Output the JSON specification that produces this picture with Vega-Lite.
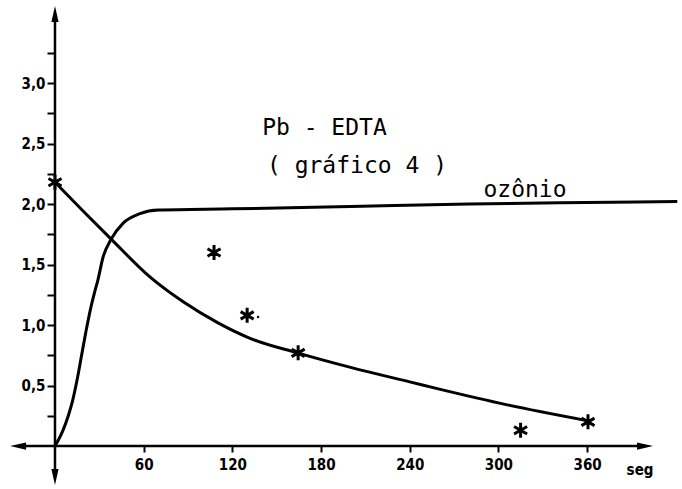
{
  "$schema": "https://vega.github.io/schema/vega-lite/v6.json",
  "width": 682,
  "height": 489,
  "autosize": "none",
  "padding": 0,
  "background": "white",
  "config": {"view": {"stroke": null}},
  "datasets": {
    "axislines": [
      {"x": -25, "y": 0, "x2": 399, "y2": 0},
      {"x": 0, "y": -0.256, "x2": 0, "y2": 3.57}
    ],
    "arrows": [
      {"x": 399.2, "y": 0, "dir": 90},
      {"x": -25, "y": 0, "dir": 270},
      {"x": 0, "y": 3.57, "dir": 0},
      {"x": 0, "y": -0.256, "dir": 180}
    ],
    "curves": [
      {"series": "ozonio", "x": 0, "y": 0},
      {"series": "ozonio", "x": 5.4, "y": 0.13},
      {"series": "ozonio", "x": 9, "y": 0.25},
      {"series": "ozonio", "x": 12, "y": 0.38},
      {"series": "ozonio", "x": 15, "y": 0.55},
      {"series": "ozonio", "x": 18, "y": 0.75},
      {"series": "ozonio", "x": 21, "y": 0.95},
      {"series": "ozonio", "x": 24, "y": 1.13},
      {"series": "ozonio", "x": 27, "y": 1.28},
      {"series": "ozonio", "x": 29, "y": 1.37},
      {"series": "ozonio", "x": 32.5, "y": 1.56},
      {"series": "ozonio", "x": 38, "y": 1.71},
      {"series": "ozonio", "x": 46, "y": 1.84},
      {"series": "ozonio", "x": 57.5, "y": 1.92},
      {"series": "ozonio", "x": 70, "y": 1.95},
      {"series": "ozonio", "x": 120, "y": 1.96},
      {"series": "ozonio", "x": 200, "y": 1.98},
      {"series": "ozonio", "x": 280, "y": 2.0},
      {"series": "ozonio", "x": 342, "y": 2.01},
      {"series": "ozonio", "x": 421, "y": 2.02},
      {"series": "PbEDTA", "x": 0, "y": 2.18},
      {"series": "PbEDTA", "x": 20, "y": 1.93},
      {"series": "PbEDTA", "x": 38, "y": 1.71},
      {"series": "PbEDTA", "x": 64, "y": 1.4},
      {"series": "PbEDTA", "x": 87, "y": 1.19},
      {"series": "PbEDTA", "x": 110, "y": 1.02},
      {"series": "PbEDTA", "x": 132, "y": 0.89},
      {"series": "PbEDTA", "x": 164, "y": 0.77},
      {"series": "PbEDTA", "x": 200, "y": 0.65},
      {"series": "PbEDTA", "x": 240, "y": 0.53},
      {"series": "PbEDTA", "x": 260, "y": 0.47},
      {"series": "PbEDTA", "x": 306, "y": 0.34},
      {"series": "PbEDTA", "x": 360, "y": 0.21}
    ],
    "stars": [
      {"x": 0, "y": 2.18},
      {"x": 107.6, "y": 1.6},
      {"x": 130, "y": 1.08},
      {"x": 164.5, "y": 0.77},
      {"x": 315, "y": 0.13},
      {"x": 360.6, "y": 0.2}
    ],
    "dots": [
      {"x": 137.4, "y": 1.066}
    ],
    "labels": [
      {"x": 182.3, "y": 2.57, "label": "Pb - EDTA"},
      {"x": 204.3, "y": 2.26, "label": "( gráfico 4 )"},
      {"x": 318, "y": 2.06, "label": "ozônio"}
    ],
    "unit": [
      {"x": 395.8, "y": -0.2, "label": "seg"}
    ]
  },
  "encoding": {
    "x": {
      "field": "x",
      "type": "quantitative",
      "scale": {"domain": [-37.2, 424.2], "nice": false, "zero": false},
      "axis": {
        "orient": "bottom",
        "offset": -43,
        "values": [60, 120, 180, 240, 300, 360],
        "domain": false,
        "grid": false,
        "tickSize": 6,
        "tickWidth": 2,
        "tickColor": "black",
        "labelFont": "DejaVu Sans Condensed, DejaVu Sans",
        "labelFontSize": 15,
        "labelFontWeight": "bold",
        "labelColor": "black",
        "labelPadding": 5,
        "labelFlush": false,
        "labelOverlap": false,
        "title": null
      }
    },
    "y": {
      "field": "y",
      "type": "quantitative",
      "scale": {"domain": [-0.355, 3.686], "nice": false, "zero": false},
      "axis": {
        "orient": "left",
        "offset": -55,
        "values": [0.25, 0.5, 0.75, 1, 1.25, 1.5, 1.75, 2, 2.25, 2.5, 2.75, 3, 3.25],
        "labelExpr": "datum.value % 0.5 < 0.01 ? replace(format(datum.value, '.1f'), '.', ',') : ''",
        "domain": false,
        "grid": false,
        "tickSize": 8,
        "tickWidth": 2,
        "tickColor": "black",
        "labelFont": "DejaVu Sans Condensed, DejaVu Sans",
        "labelFontSize": 15,
        "labelFontWeight": "bold",
        "labelColor": "black",
        "labelPadding": 2,
        "labelFlush": false,
        "labelOverlap": false,
        "title": null
      }
    }
  },
  "layer": [
    {
      "data": {"name": "axislines"},
      "mark": {"type": "rule", "color": "black", "strokeWidth": 2.5},
      "encoding": {
        "x2": {"field": "x2"},
        "y2": {"field": "y2"}
      }
    },
    {
      "data": {"name": "arrows"},
      "mark": {"type": "point", "shape": "M0,-1L0.45,1L-0.45,1Z", "filled": true, "color": "black", "size": 256, "opacity": 1},
      "encoding": {
        "angle": {"field": "dir", "type": "quantitative", "scale": null}
      }
    },
    {
      "data": {"name": "curves"},
      "mark": {"type": "line", "color": "black", "strokeWidth": 3, "interpolate": "monotone"},
      "encoding": {
        "detail": {"field": "series"}
      }
    },
    {
      "data": {"name": "stars"},
      "mark": {"type": "point", "shape": "M0,-1L0,1M-0.87,-0.5L0.87,0.5M-0.87,0.5L0.87,-0.5", "filled": false, "stroke": "black", "strokeWidth": 3, "size": 225, "opacity": 1}
    },
    {
      "data": {"name": "dots"},
      "mark": {"type": "point", "shape": "circle", "filled": true, "color": "black", "size": 6, "opacity": 1}
    },
    {
      "data": {"name": "labels"},
      "mark": {"type": "text", "font": "DejaVu Sans Mono", "fontSize": 23, "align": "center", "baseline": "alphabetic", "color": "black"},
      "encoding": {
        "text": {"field": "label"}
      }
    },
    {
      "data": {"name": "unit"},
      "mark": {"type": "text", "font": "DejaVu Sans Condensed, DejaVu Sans", "fontSize": 15, "fontWeight": "bold", "align": "center", "baseline": "middle", "color": "black"},
      "encoding": {
        "text": {"field": "label"}
      }
    }
  ]
}
